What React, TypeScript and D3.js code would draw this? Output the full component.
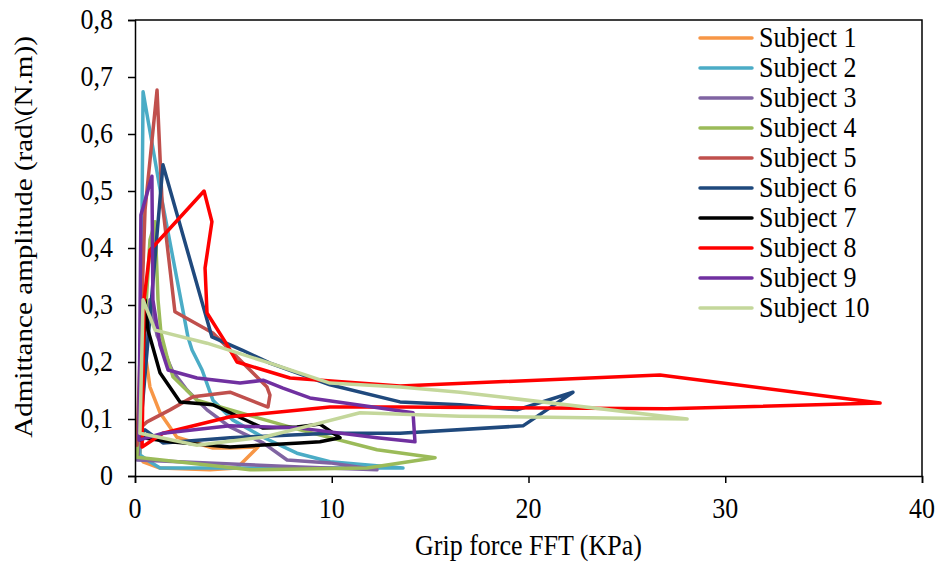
import React, { useEffect, useRef } from 'react'
import * as d3 from 'd3'

// [x (KPa), y (rad/(N.m))]
const S1: [number, number][] = [
  [0.25, 0.037], [0.46, 0.23], [0.76, 0.156], [1.27, 0.111], [2.13, 0.068], [3.96, 0.049],
  [4.83, 0.049], [6.25, 0.051], [5.18, 0.014], [3.81, 0.011], [1.27, 0.014], [0.41, 0.025], [0.25, 0.037],
]
const S2: [number, number][] = [
  [0.25, 0.037], [0.41, 0.674], [1.37, 0.484], [2.69, 0.244], [2.9, 0.221], [3.41, 0.186],
  [3.96, 0.133], [4.98, 0.098], [6.51, 0.068], [8.23, 0.04], [9.91, 0.025], [13.62, 0.014],
  [5.85, 0.014], [1.27, 0.014], [0.76, 0.025], [0.25, 0.037],
]
const S3: [number, number][] = [
  [0.15, 0.032], [0.76, 0.309], [1.12, 0.247], [1.88, 0.186], [2.64, 0.151], [3.66, 0.116],
  [4.83, 0.086], [6.51, 0.058], [7.73, 0.028], [9.91, 0.023], [12.3, 0.011], [8.39, 0.016],
  [0.1, 0.028], [0.15, 0.032],
]
const S4: [number, number][] = [
  [0.1, 0.037], [0.76, 0.414], [1.02, 0.446], [1.17, 0.309], [1.32, 0.251], [1.63, 0.209],
  [1.93, 0.174], [3.15, 0.133], [5.34, 0.111], [8.39, 0.081], [12.3, 0.046], [15.25, 0.032],
  [11.79, 0.014], [5.85, 0.011], [0.1, 0.033],
]
const S5: [number, number][] = [
  [0.1, 0.054], [0.51, 0.467], [1.12, 0.677], [1.37, 0.484], [2.03, 0.288], [3.96, 0.251],
  [6.71, 0.156], [6.86, 0.142], [6.76, 0.121], [4.83, 0.147], [2.95, 0.139], [1.78, 0.116],
  [0.61, 0.095], [0.15, 0.081], [0.1, 0.054],
]
const S6: [number, number][] = [
  [0.25, 0.072], [1.42, 0.546], [3.91, 0.244], [5.44, 0.221], [6.86, 0.198], [9.91, 0.16],
  [13.47, 0.13], [16.52, 0.125], [19.42, 0.116], [22.26, 0.147], [19.72, 0.088], [13.47, 0.075],
  [9.91, 0.075], [4.83, 0.067], [1.42, 0.058], [0.51, 0.081], [0.25, 0.072],
]
const S7: [number, number][] = [
  [0.3, 0.063], [0.51, 0.309], [0.66, 0.256], [1.27, 0.181], [2.29, 0.13], [3.96, 0.125],
  [4.83, 0.111], [6.51, 0.084], [8.23, 0.086], [9.4, 0.091], [10.42, 0.067], [9.4, 0.06],
  [8.39, 0.058], [4.83, 0.051], [1.78, 0.06], [0.41, 0.067], [0.3, 0.063],
]
const S8: [number, number][] = [
  [0.36, 0.051], [0.46, 0.309], [0.76, 0.396], [3.51, 0.5], [3.91, 0.446], [3.56, 0.365],
  [3.66, 0.286], [4.68, 0.23], [5.18, 0.2], [7.88, 0.172], [13.47, 0.158], [26.68, 0.177],
  [37.87, 0.128], [27.04, 0.118], [13.47, 0.121], [9.91, 0.121], [4.83, 0.104], [1.42, 0.075],
  [0.36, 0.051],
]
const S9: [number, number][] = [
  [0.2, 0.063], [0.3, 0.458], [0.86, 0.526], [0.91, 0.309], [1.27, 0.23], [1.68, 0.186],
  [3.15, 0.172], [5.34, 0.163], [6.51, 0.168], [7.52, 0.154], [8.89, 0.137], [14.13, 0.111],
  [14.23, 0.06], [12.3, 0.067], [8.39, 0.084], [4.83, 0.088], [1.42, 0.075], [0.2, 0.063],
]
const S10: [number, number][] = [
  [0.25, 0.075], [0.41, 0.309], [1.02, 0.256], [3.66, 0.233], [6.86, 0.198], [9.91, 0.163],
  [13.47, 0.156], [16.52, 0.147], [28.06, 0.1], [16.52, 0.105], [11.44, 0.111], [8.39, 0.084],
  [6.51, 0.068], [3.15, 0.054], [0.25, 0.075],
]

const SERIES_NAMES = [
  'Subject 1', 'Subject 2', 'Subject 3', 'Subject 4', 'Subject 5',
  'Subject 6', 'Subject 7', 'Subject 8', 'Subject 9', 'Subject 10',
]
const SERIES_DATA = [S1, S2, S3, S4, S5, S6, S7, S8, S9, S10]
const COLORS = [
  '#F79646', '#4BACC6', '#8064A2', '#9BBB59', '#C0504D',
  '#1F497D', '#000000', '#FF0000', '#7030A0', '#C4D79B',
]
const X_TICKS = [0, 10, 20, 30, 40]
const Y_TICKS = [0, 0.1, 0.2, 0.3, 0.4, 0.5, 0.6, 0.7, 0.8]
const BS = String.fromCharCode(92)
const Y_TITLE = `Admittance amplitude (rad${BS}(N.m))`
const X_TITLE = 'Grip force FFT (KPa)'

export default function App() {
  const svgRef = useRef<SVGSVGElement>(null)

  useEffect(() => {
    if (!svgRef.current) return
    const width = 940
    const height = 563
    const margin = { top: 20, right: 18, bottom: 87, left: 135 }
    const w = width - margin.left - margin.right
    const h = height - margin.top - margin.bottom
    const font = "'Liberation Serif', 'DejaVu Serif', serif"
    const fs = 26
    const stretch = 1.12 // the reference text is a bit taller than wide

    const svg = d3.select(svgRef.current)
    svg.selectAll('*').remove()

    const label = (
      parent: d3.Selection<any, unknown, null, undefined>,
      x: number,
      y: number,
      str: string,
      anchor: string,
      rotate = false,
    ) =>
      parent
        .append('text')
        .attr(
          'transform',
          rotate
            ? `translate(${x},${y}) rotate(-90) scale(${stretch},1)`
            : `translate(${x},${y}) scale(1,${stretch})`,
        )
        .attr('text-anchor', anchor)
        .attr('dy', '0.35em')
        .style('font-family', font)
        .style('font-size', `${fs}px`)
        .attr('fill', '#000')
        .text(str)

    const g = svg.append('g').attr('transform', `translate(${margin.left},${margin.top})`)

    const x = d3.scaleLinear().domain([0, 40]).range([0, w])
    const y = d3.scaleLinear().domain([0, 0.8]).range([h, 0])

    const line = d3
      .line<[number, number]>()
      .x((d) => x(d[0]))
      .y((d) => y(d[1]))

    // plot border (top + right)
    g.append('path')
      .attr('d', `M0,0H${w}V${h}`)
      .attr('fill', 'none')
      .attr('stroke', '#000')
      .attr('stroke-width', 1.5)

    SERIES_DATA.forEach((data, i) => {
      g.append('path')
        .datum(data)
        .attr('fill', 'none')
        .attr('stroke', COLORS[i])
        .attr('stroke-width', 3.5)
        .attr('stroke-linejoin', 'round')
        .attr('stroke-linecap', 'round')
        .attr('d', line)
    })

    const fmt = (d: number) => (d === 0 ? '0' : d3.format('.1f')(d).replace('.', ','))

    const yAxis = g
      .append('g')
      .call(d3.axisLeft(y).tickValues(Y_TICKS).tickSize(7).tickFormat(() => ''))
    yAxis.select('.domain').attr('stroke-width', 1.5)
    yAxis.selectAll('line').attr('stroke-width', 1.5)
    Y_TICKS.forEach((t) => label(g, -22, y(t) - 1, fmt(t), 'end'))

    const xAxis = g
      .append('g')
      .attr('transform', `translate(0,${h})`)
      .call(d3.axisBottom(x).tickValues(X_TICKS).tickSize(7).tickFormat(() => ''))
    xAxis.select('.domain').attr('stroke-width', 1.5)
    xAxis.selectAll('line').attr('stroke-width', 1.5)
    X_TICKS.forEach((t) => label(g, x(t), h + 32, `${t}`, 'middle'))

    label(svg, margin.left + w / 2, 545, X_TITLE, 'middle')
    label(svg, 23, 237, Y_TITLE, 'middle', true)

    // legend
    const legend = svg.append('g').attr('transform', 'translate(700,38)')
    SERIES_NAMES.forEach((name, i) => {
      legend.append('line')
        .attr('x1', 0)
        .attr('x2', 52)
        .attr('y1', i * 30)
        .attr('y2', i * 30)
        .attr('stroke', COLORS[i])
        .attr('stroke-width', 3.5)
        .attr('stroke-linecap', 'round')
      label(legend, 59, i * 30 - 1, name, 'start')
    })
  }, [])

  return (
    <div style={{ position: 'absolute', left: 0, top: 0 }}>
      <svg ref={svgRef} width={940} height={563} style={{ display: 'block', background: '#fff' }} />
    </div>
  )
}
